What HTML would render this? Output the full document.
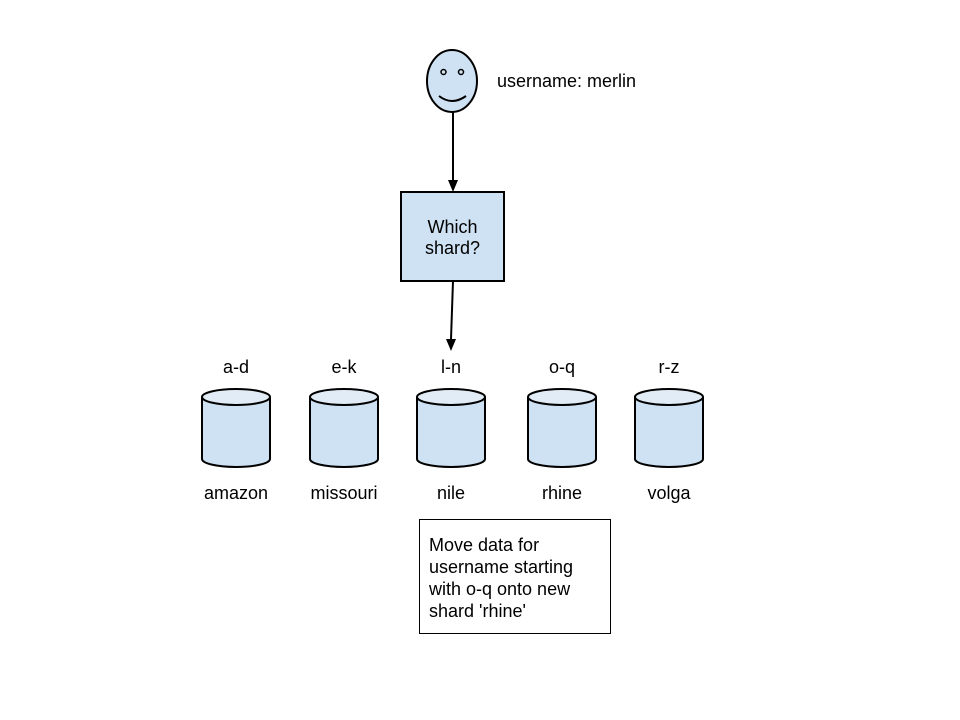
<!DOCTYPE html>
<html><head><style>html,body{margin:0;padding:0;background:#fff}svg{display:block}</style></head>
<body>
<svg width="960" height="720" viewBox="0 0 960 720" xmlns="http://www.w3.org/2000/svg" font-family="Liberation Sans, Arial, sans-serif" font-size="18">
<defs>
<g id="cyl">
<path d="M0,8 L0,70 A34,8 0 0 0 68,70 L68,8" fill="#cfe2f3" stroke="#000" stroke-width="2"/>
<ellipse cx="34" cy="8" rx="34" ry="8" fill="#e1ecf7" stroke="#000" stroke-width="2"/>
</g>
</defs>
<!-- face -->
<ellipse cx="452" cy="81" rx="25" ry="31" fill="#cfe2f3" stroke="#000" stroke-width="2"/>
<circle cx="443.5" cy="72" r="2.5" fill="none" stroke="#000" stroke-width="1.5"/>
<circle cx="461" cy="72" r="2.5" fill="none" stroke="#000" stroke-width="1.5"/>
<path d="M439,96 Q452,106 466,96" fill="none" stroke="#000" stroke-width="2"/>
<text x="497" y="87">username: merlin</text>
<!-- arrows -->
<line x1="453" y1="112" x2="453" y2="180" stroke="#000" stroke-width="2"/>
<path d="M448,180 L458,180 L453,192 Z" fill="#000"/>
<rect x="401" y="192" width="103" height="89" fill="#cfe2f3" stroke="#000" stroke-width="2"/>
<text x="452.5" y="233" text-anchor="middle">Which</text>
<text x="452.5" y="254" text-anchor="middle">shard?</text>
<line x1="453" y1="281" x2="451" y2="339" stroke="#000" stroke-width="2"/>
<path d="M446,339 L456,339 L451,351 Z" fill="#000"/>
<!-- shards -->
<g text-anchor="middle">
<text x="236" y="373">a-d</text>
<text x="344" y="373">e-k</text>
<text x="451" y="373">l-n</text>
<text x="562" y="373">o-q</text>
<text x="669" y="373">r-z</text>
<text x="236" y="499">amazon</text>
<text x="344" y="499">missouri</text>
<text x="451" y="499">nile</text>
<text x="562" y="499">rhine</text>
<text x="669" y="499">volga</text>
</g>
<use href="#cyl" x="202" y="389"/>
<use href="#cyl" x="310" y="389"/>
<use href="#cyl" x="417" y="389"/>
<use href="#cyl" x="528" y="389"/>
<use href="#cyl" x="635" y="389"/>
<!-- note -->
<rect x="419.5" y="519.5" width="191" height="114" fill="#fff" stroke="#000" stroke-width="1"/>
<text x="429" y="551">Move data for</text>
<text x="429" y="573">username starting</text>
<text x="429" y="595">with o-q onto new</text>
<text x="429" y="617">shard 'rhine'</text>
</svg>
</body></html>
